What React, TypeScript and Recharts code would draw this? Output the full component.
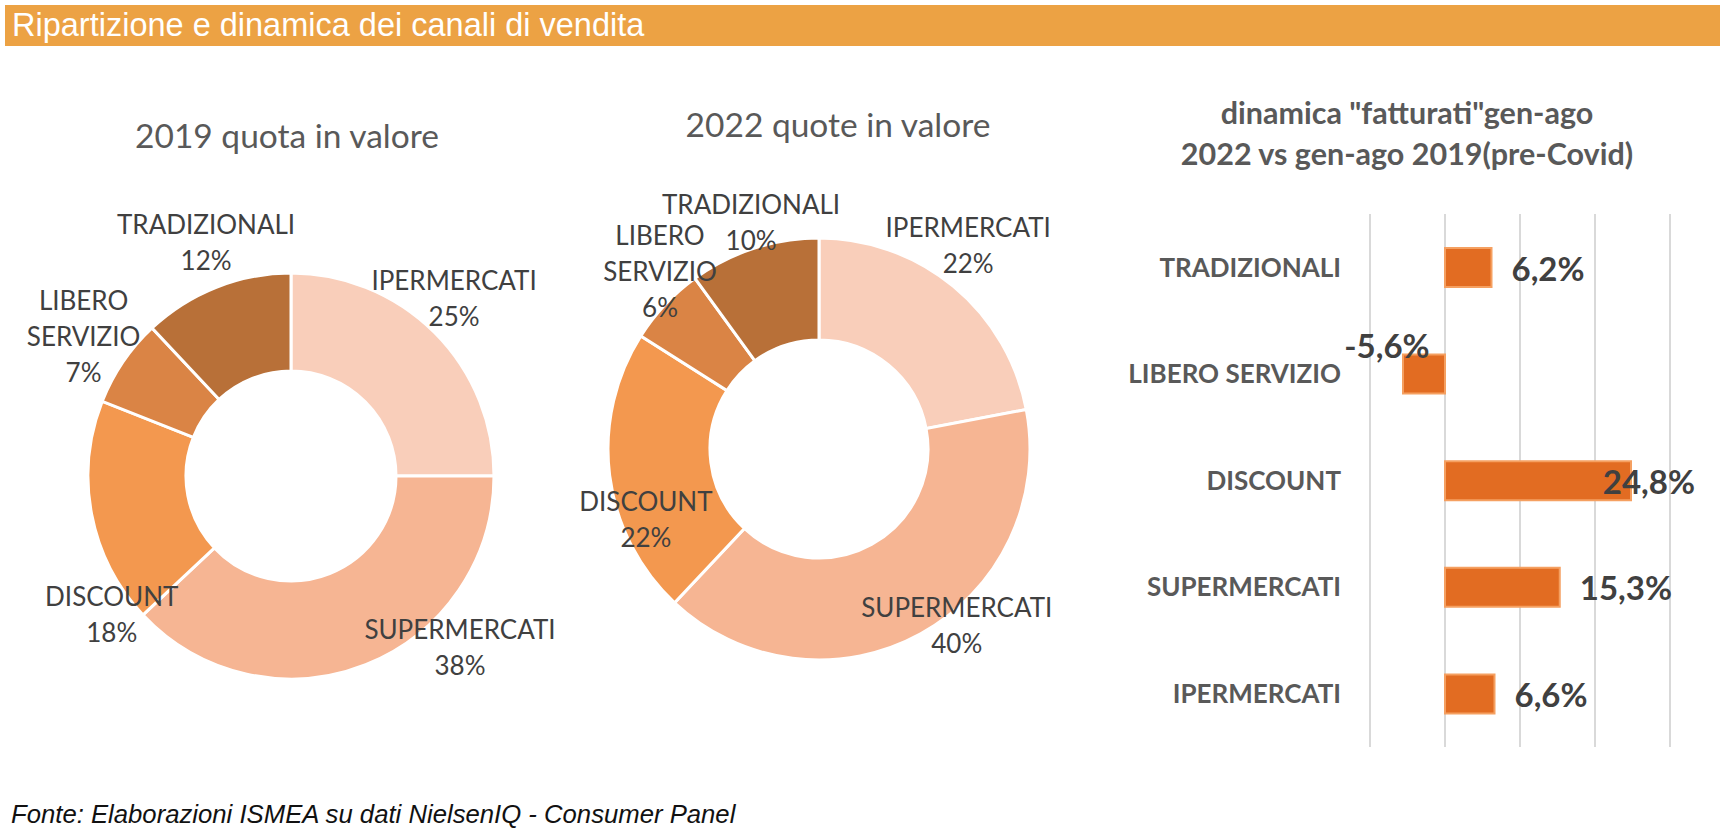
import React from 'react'
import { PieChart, Pie, Cell, BarChart, Bar, XAxis, YAxis, CartesianGrid, LabelList } from 'recharts'

// channels, clockwise from 12 o'clock in the donuts (bottom -> top in the bar chart)
const channels = ['IPERMERCATI', 'SUPERMERCATI', 'DISCOUNT', 'LIBERO SERVIZIO', 'TRADIZIONALI']
const share2019 = [25, 38, 18, 7, 12]
const share2022 = [22, 40, 22, 6, 10]
const growth = [6.6, 15.3, 24.8, -5.6, 6.2]
const growthTicks = [-10, 0, 10, 20, 30]

const sliceColors = ['#F9CEBA', '#F6B593', '#F3984F', '#DA8445', '#B87038']
const FONT = 'Lato, "Noto Sans", sans-serif'
const TEXT = '#404040'

// excel "best fit" label spots: [angle shift clockwise in deg, distance / outer radius]
const fit2019: Record<string, [number, number]> = {
  IPERMERCATI: [-1.5, 1.167],
  SUPERMERCATI: [-22, 1.207],
  DISCOUNT: [-28, 1.133],
  'LIBERO SERVIZIO': [-1.3, 1.217],
  TRADIZIONALI: [1.2, 1.2],
}
const fit2022: Record<string, [number, number]> = {
  IPERMERCATI: [-2.6, 1.175],
  SUPERMERCATI: [-8.4, 1.08],
  DISCOUNT: [-16.5, 0.896],
  'LIBERO SERVIZIO': [4, 1.109],
  TRADIZIONALI: [0.9, 1.095],
}

const data2019 = channels.map((name, i) => ({ name, value: share2019[i] }))
const data2022 = channels.map((name, i) => ({ name, value: share2022[i] }))
const growthData = channels.map((name, i) => ({ name, value: growth[i] }))

const makePieLabel = (fit: Record<string, [number, number]>) => (p: any) => {
  const [shift, k] = fit[p.name] || [0, 1.18]
  const theta = ((90 - p.midAngle + shift) * Math.PI) / 180
  const r = p.outerRadius * k
  const x = p.cx + r * Math.sin(theta)
  const y = p.cy - r * Math.cos(theta) - 6
  const lines = [...String(p.name).split(' '), `${p.value}%`]
  const lh = 36
  return (
    <g>
      {lines.map((t, i) => (
        <text
          key={i}
          x={x}
          y={y + (i - (lines.length - 1) / 2) * lh}
          textAnchor="middle"
          dominantBaseline="central"
          fontSize={26}
          fontFamily={FONT}
          fill={TEXT}
        >
          {t}
        </text>
      ))}
    </g>
  )
}

const growthLabel = (p: any) => {
  const { x, y, width, height, value } = p
  const txt = `${Number(value).toFixed(1).replace('.', ',')}%`
  const style = { fontSize: 33, fontWeight: 700, fontFamily: FONT, fill: TEXT }
  const end = x + width
  if (value < 0) {
    return (
      <text x={end - 16} y={y - 10} textAnchor="middle" dominantBaseline="central" {...style}>
        {txt}
      </text>
    )
  }
  const limit = 595
  const w = txt.length * 0.58 * 33
  const start = end + 20
  const fits = start + w <= limit
  return (
    <text
      x={fits ? start : limit}
      y={y + height / 2}
      textAnchor={fits ? 'start' : 'end'}
      dominantBaseline="central"
      {...style}
    >
      {txt}
    </text>
  )
}

const Donut = ({ data, cx, cy, outer, inner, fit }: any) => (
  <PieChart width={560} height={760} style={{ position: 'absolute', left: 0, top: 0 }}>
    <Pie
      data={data}
      dataKey="value"
      nameKey="name"
      cx={cx}
      cy={cy}
      innerRadius={inner}
      outerRadius={outer}
      startAngle={90}
      endAngle={-270}
      stroke="#ffffff"
      strokeWidth={3}
      label={makePieLabel(fit)}
      labelLine={false}
      isAnimationActive={false}
    >
      {data.map((d: any, i: number) => (
        <Cell key={d.name} fill={sliceColors[i]} />
      ))}
    </Pie>
  </PieChart>
)

export default function App() {
  return (
    <div style={{ position: 'absolute', left: 0, top: 0, width: 1720, height: 830, background: '#fff', overflow: 'hidden' }}>
      {/* header band */}
      <div
        style={{
          position: 'absolute', left: 5, top: 5, width: 1715, height: 41, background: '#ECA244',
          color: '#fff', fontFamily: '"Liberation Sans", Arial, sans-serif', fontSize: 32.5,
          lineHeight: '41px', paddingLeft: 7, boxSizing: 'border-box', whiteSpace: 'nowrap',
        }}
      >
        Ripartizione e dinamica dei canali di vendita
      </div>

      {/* donut titles */}
      <div style={{ position: 'absolute', left: 37, top: 115, width: 500, textAlign: 'center', fontFamily: FONT, fontSize: 33.5, lineHeight: '40px', color: '#595959' }}>
        2019 quota in valore
      </div>
      <div style={{ position: 'absolute', left: 588, top: 104, width: 500, textAlign: 'center', fontFamily: FONT, fontSize: 33.5, lineHeight: '40px', color: '#595959' }}>
        2022 quote in valore
      </div>

      <div style={{ position: 'absolute', left: 0, top: 0, width: 560, height: 760 }}>
        <Donut data={data2019} cx={286} cy={471} outer={203} inner={105} fit={fit2019} />
      </div>
      <div style={{ position: 'absolute', left: 560, top: 0, width: 560, height: 760 }}>
        <Donut data={data2022} cx={254} cy={444} outer={211} inner={109} fit={fit2022} />
      </div>

      {/* growth bar chart */}
      <div style={{ position: 'absolute', left: 1107, top: 92, width: 600, textAlign: 'center', fontFamily: FONT, fontSize: 30.5, fontWeight: 700, lineHeight: '41px', color: '#595959', whiteSpace: 'nowrap' }}>
        dinamica "fatturati"gen-ago
        <br />
        2022 vs gen-ago 2019(pre-Covid)
      </div>
      <div style={{ position: 'absolute', left: 1100, top: 200, width: 620, height: 560 }}>
        <BarChart
          width={620}
          height={560}
          data={growthData}
          layout="vertical"
          margin={{ top: 14, right: 50, bottom: 13, left: 0 }}
        >
          <CartesianGrid horizontal={false} stroke="#D9D9D9" strokeWidth={2} />
          <XAxis type="number" domain={[-10, 30]} ticks={growthTicks} hide />
          <YAxis
            type="category"
            dataKey="name"
            reversed
            width={270}
            axisLine={false}
            tickLine={false}
            tickMargin={23}
            tick={{ fontSize: 26, fontWeight: 700, fontFamily: FONT, fill: '#595959' }}
          />
          <Bar dataKey="value" barSize={39} fill="#E26C22" stroke="#F5A061" strokeWidth={2} isAnimationActive={false}>
            <LabelList dataKey="value" content={growthLabel} />
          </Bar>
        </BarChart>
      </div>

      <div
        style={{
          position: 'absolute', left: 11, top: 799, fontFamily: '"Liberation Sans", Arial, sans-serif',
          fontStyle: 'italic', fontSize: 25.7, lineHeight: '30px', color: '#111', whiteSpace: 'nowrap',
        }}
      >
        Fonte: Elaborazioni ISMEA su dati NielsenIQ - Consumer Panel
      </div>
    </div>
  )
}
